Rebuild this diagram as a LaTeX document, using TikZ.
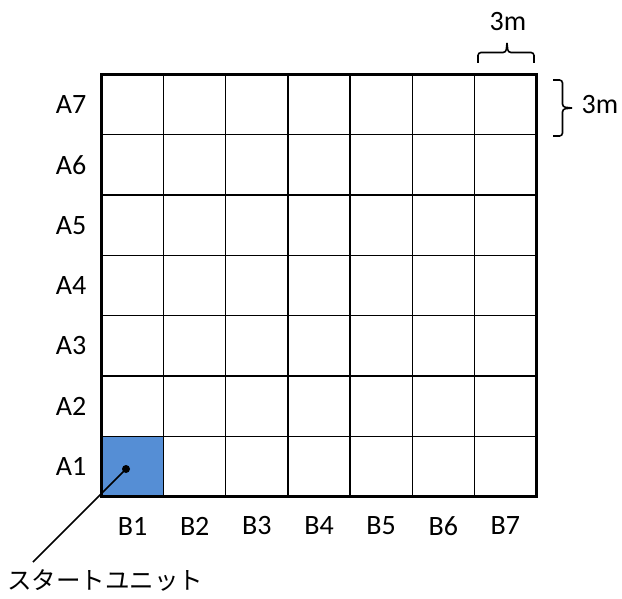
\documentclass[tikz,border=0pt]{standalone}
\usepackage{fontspec}
\setmainfont{Carlito}
\newfontfamily\cjk{Noto Sans CJK JP}
\definecolor{startblue}{RGB}{85,142,213}
\begin{document}
\begin{tikzpicture}[x=1pt,y=-1pt,
  lbl/.style={font=\fontsize{28}{32}\selectfont, inner sep=0pt},
  thin grid/.style={line width=1.2pt},
  frame/.style={line width=3pt},
  brace/.style={line width=1.6pt, rounded corners=3pt}]
\useasboundingbox (0,0) rectangle (622,599);
% start cell
\fill[startblue] (101.5,436.3) rectangle (163.6,496.6);
% grid lines
\foreach \i in {1,...,6} {
  \draw[thin grid] ({101.5+\i*62.14},74.5) -- ({101.5+\i*62.14},496.6);
  \draw[thin grid] (101.5,{74.5+\i*60.3}) -- (536.5,{74.5+\i*60.3});
}
\draw[frame] (101.5,74.5) rectangle (536.5,496.6);
% labels
\foreach \k in {1,...,7} {
  \node[lbl] (a\k) at (71,{496.6-(\k-0.5)*60.3}) {A\k};
  \node[lbl] (b\k) at ({101.5+(\k-0.5)*62.14},526) {B\k};
}
% top brace
\draw[brace] (478,63) -- (478,52.5) -- (506,52.5) -- (507,43);
\draw[brace] (534,63) -- (534,52.5) -- (508,52.5) -- (507,43);
\node[lbl] (w) at (508,22) {3m};
% right brace
\draw[brace] (553,80) -- (562.5,80) -- (562.5,107) -- (572,108);
\draw[brace] (553,136) -- (562.5,136) -- (562.5,109) -- (572,108);
\node[lbl] (h) at (600,105) {3m};
% start unit
\fill (126,469) circle (4);
\coordinate (dot) at (126,469);
\node[inner sep=0pt, anchor=west, font=\cjk\fontsize{24.5}{28}\selectfont] (su) at (7,580) {スタートユニット};
\coordinate (lend) at (33,562);
\draw[line width=1.6pt] (dot) -- (lend);
\end{tikzpicture}
\end{document}
